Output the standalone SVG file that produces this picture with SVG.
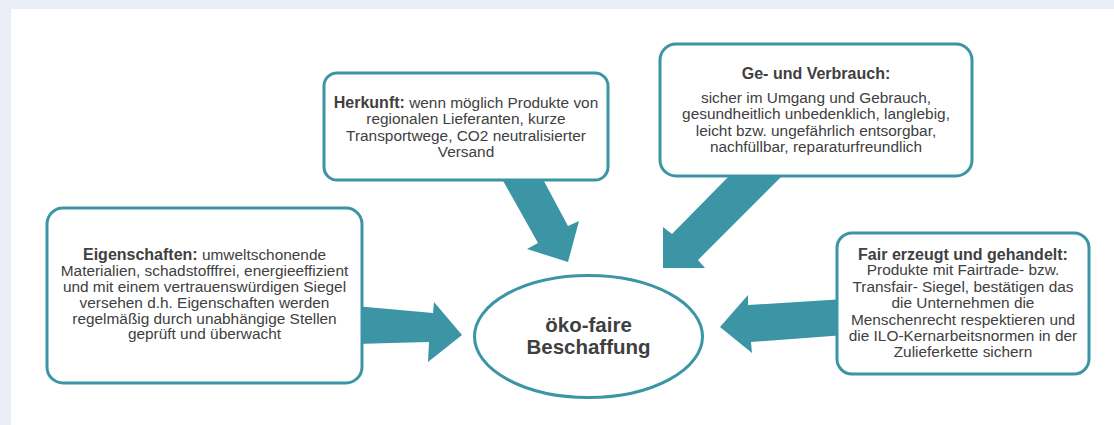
<svg xmlns="http://www.w3.org/2000/svg" width="1114" height="425" viewBox="0 0 1114 425">
<style>
.box{fill:#ffffff;stroke:#3b95a4;stroke-width:3}
.arr{fill:#3b95a4}
text{font-family:"Liberation Sans",Arial,sans-serif;font-size:15.4px;fill:#404040;text-anchor:middle}
.b{font-weight:bold;font-size:16px}
.big{font-size:20.5px;font-weight:bold;fill:#3f3f3f}
</style>
<rect x="0" y="0" width="1114" height="425" fill="#ebeef6"/>
<rect x="11" y="9" width="1103" height="416" fill="#ffffff"/>
<g id="connectors">
<polygon class="arr" points="355,306 433,313 434,302 462,335 428,362 429,342 355,344"/>
<polygon class="arr" points="845,299 748,305 748,295 720,327 752,353 751,342 845,335"/>
<polygon class="arr" points="497,170 538,170 568,226 579,221 568,262 527,249 538,243"/>
<polygon class="arr" points="735,170 788,170 698,260 705,268 663,268 663,227 672,234"/>
</g>
<g id="eigenschaften">
<rect class="box" x="47" y="208" width="315" height="175" rx="16"/>
<text x="204.5" y="260"><tspan class="b">Eigenschaften:</tspan> umweltschonende</text>
<text x="204.5" y="276">Materialien, schadstofffrei, energieeffizient</text>
<text x="204.5" y="292">und mit einem vertrauenswürdigen Siegel</text>
<text x="204.5" y="308">versehen d.h. Eigenschaften werden</text>
<text x="204.5" y="323.5">regelmäßig durch unabhängige Stellen</text>
<text x="204.5" y="339">geprüft und überwacht</text>
</g>
<g id="herkunft">
<rect class="box" x="324" y="73" width="284" height="107" rx="13"/>
<text x="466" y="108"><tspan class="b">Herkunft:</tspan> wenn möglich Produkte von</text>
<text x="466" y="124.3">regionalen Lieferanten,  kurze</text>
<text x="466" y="140.6">Transportwege, CO2 neutralisierter</text>
<text x="466" y="157">Versand</text>
</g>
<g id="verbrauch">
<rect class="box" x="660" y="44" width="312" height="132" rx="16"/>
<text class="b" x="816" y="79">Ge- und Verbrauch:</text>
<text x="816" y="102.7">sicher im Umgang und Gebrauch,</text>
<text x="816" y="119">gesundheitlich unbedenklich, langlebig,</text>
<text x="816" y="135.5">leicht bzw. ungefährlich entsorgbar,</text>
<text x="816" y="151.7">nachfüllbar, reparaturfreundlich</text>
</g>
<g id="fair">
<rect class="box" x="837" y="233" width="252" height="141" rx="15"/>
<text class="b" x="963" y="260">Fair erzeugt und gehandelt:</text>
<text x="963" y="275">Produkte mit Fairtrade- bzw.</text>
<text x="963" y="291.5">Transfair- Siegel, bestätigen das</text>
<text x="963" y="308">die Unternehmen die</text>
<text x="963" y="324.5">Menschenrecht respektieren und</text>
<text x="963" y="341">die ILO-Kernarbeitsnormen in der</text>
<text x="963" y="357">Zulieferkette sichern</text>
</g>
<g id="center">
<ellipse class="box" cx="588.5" cy="336.5" rx="114" ry="61"/>
<text class="big" x="588.5" y="332">öko-faire</text>
<text class="big" x="588.5" y="353.5">Beschaffung</text>
</g>
</svg>
